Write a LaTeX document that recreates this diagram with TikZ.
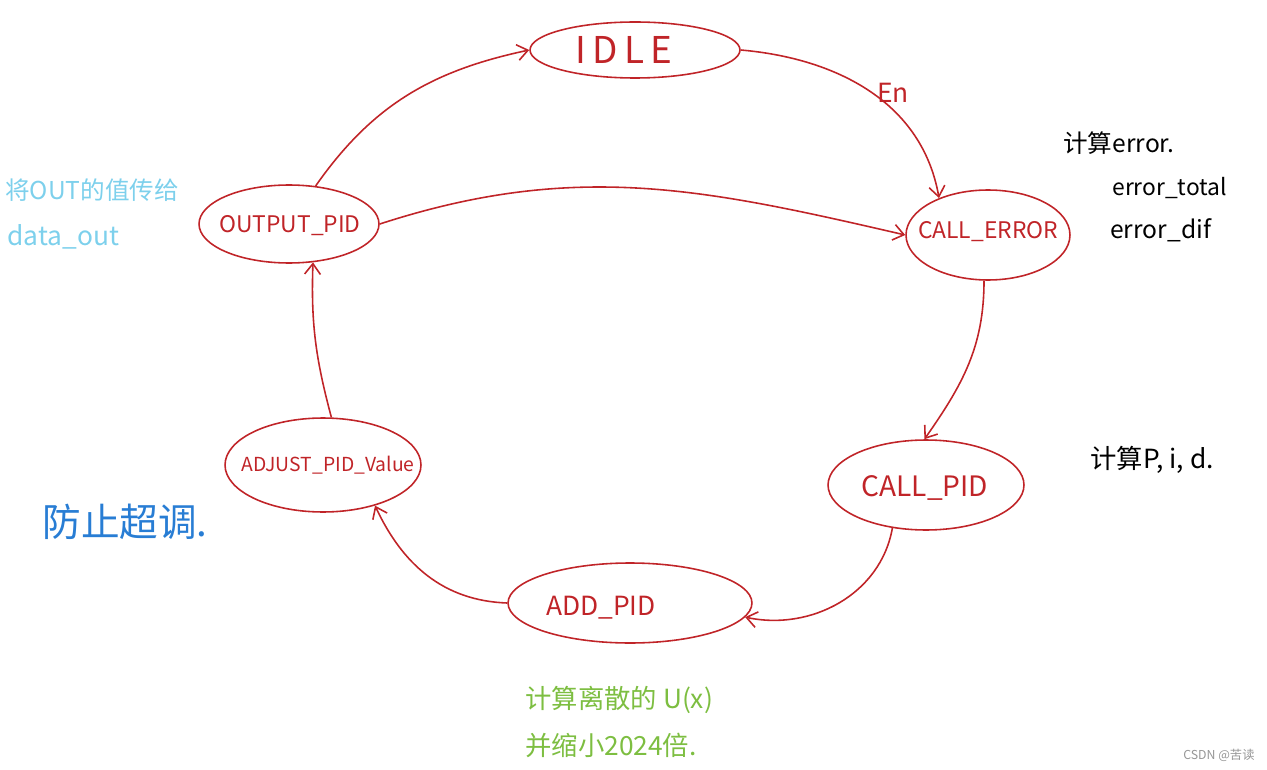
\documentclass[tikz,border=0pt]{standalone}
\usepackage{fontspec}
\setmainfont{Noto Sans CJK SC}
\usetikzlibrary{shapes.geometric,arrows.meta}
\definecolor{pen}{RGB}{192,36,40}
\definecolor{skyblue}{RGB}{125,208,236}
\definecolor{inkblue}{RGB}{40,125,212}
\definecolor{leaf}{RGB}{125,190,65}
\definecolor{mark}{RGB}{150,150,150}
\tikzset{
  state/.style={draw=pen, line width=0.9pt, ellipse, inner sep=0pt},
  stxt/.style={text=pen, inner sep=0pt},
  flow/.style={draw=pen, line width=0.9pt, -{Straight Barb[length=6pt,width=9pt]}},
  note/.style={anchor=west, inner sep=0pt},
}
\begin{document}
\begin{tikzpicture}[x=0.02cm, y=-0.02cm]
\useasboundingbox (0,0) rectangle (1267,770);
% states
\node[state, minimum width=4.2cm, minimum height=1.12cm] (idle) at (635,50) {};
\node[state, minimum width=3.28cm, minimum height=1.8cm] (err) at (988,235) {};
\node[state, minimum width=3.92cm, minimum height=1.8cm] (pid) at (926,485) {};
\node[state, minimum width=4.88cm, minimum height=1.6cm] (add) at (630,603) {};
\node[state, minimum width=3.92cm, minimum height=1.88cm] (adj) at (323,465) {};
\node[state, minimum width=3.6cm, minimum height=1.56cm] (out) at (289,224) {};
% state texts
\node[stxt, font=\fontsize{21}{24}\selectfont] (tidle) at (624,50) {I\,D\,L\,E};
\node[stxt, font=\fontsize{13}{15}\selectfont] (terr) at (988,232) {CALL\_ERROR};
\node[stxt, font=\fontsize{16}{18}\selectfont] (tpid) at (925,488) {CALL\_PID};
\node[stxt, font=\fontsize{15}{17}\selectfont] (tadd) at (601,608) {ADD\_PID};
\node[stxt, font=\fontsize{11}{13}\selectfont] (tadj) at (328,465) {ADJUST\_PID\_Value};
\node[stxt, font=\fontsize{13}{15}\selectfont] (tout) at (290,226) {OUTPUT\_PID};
% transitions
\draw[flow] (out.55) to[out=55, in=192] (idle.west);
\draw[flow] (idle.east) to[out=-5, in=100] (err.143);
\draw[flow] (out.east) to[out=18, in=167] (err.west);
\draw[flow] (err.265) to[out=-90, in=55] (pid.92);
\draw[flow] (pid.232) to[out=-100, in=-12] (add.-7);
\draw[flow] (add.west) to[out=178, in=-65] (adj.-38);
\draw[flow] (adj.80) to[out=105, in=-92] (out.-58);
\node[stxt, font=\fontsize{15}{17}\selectfont] (en) at (893,93) {En};
% annotations
\node[note, text=skyblue, font=\fontsize{14}{16}\selectfont] (n1) at (5,190) {将OUT的值传给};
\node[note, text=skyblue, font=\fontsize{15}{17}\selectfont] (n2) at (7,237) {data\_out};
\node[note, font=\fontsize{14}{16}\selectfont] (n3) at (1063,143) {计算error.};
\node[note, font=\fontsize{13}{15}\selectfont] (n4) at (1112,188) {error\_total};
\node[note, font=\fontsize{14}{16}\selectfont] (n5) at (1110,230) {error\_dif};
\node[note, font=\fontsize{15}{17}\selectfont] (n6) at (1090,460) {计算P, i, d.};
\node[note, text=inkblue, font=\fontsize{22}{24}\selectfont] (n7) at (42,522) {防止超调.};
\node[note, text=leaf, font=\fontsize{15}{17}\selectfont] (n8) at (525,700) {计算离散的 U(x)};
\node[note, text=leaf, font=\fontsize{15}{17}\selectfont] (n9) at (525,745) {并缩小2024倍.};
\node[note, text=mark, font=\fontsize{7}{8}\selectfont] (wm) at (1183,755) {CSDN @苦读};
\end{tikzpicture}
\end{document}
